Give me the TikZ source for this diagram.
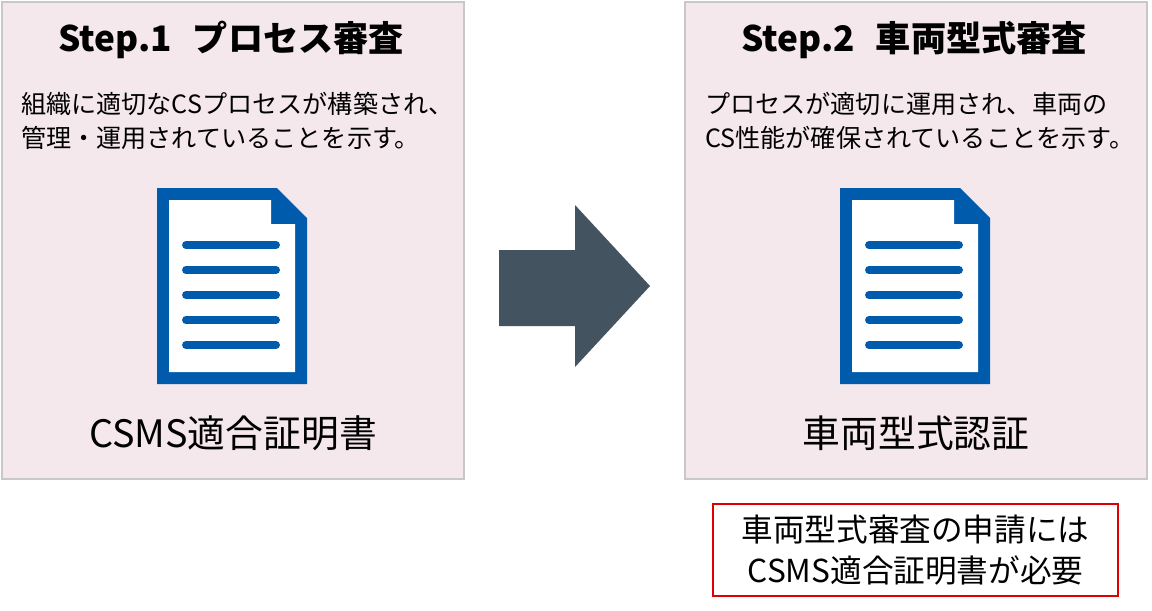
\documentclass[tikz,border=0pt]{standalone}
\usepackage{fontspec}
\setmainfont{Noto Sans CJK JP}
\definecolor{boxfill}{HTML}{F5E8EC}
\definecolor{boxline}{HTML}{C8C8C8}
\definecolor{docblue}{HTML}{005BAC}
\definecolor{arrowc}{HTML}{43535F}
\definecolor{redc}{HTML}{E00000}
\tikzset{
  panel/.style={draw=boxline,fill=boxfill,line width=1.2pt},
  ttl/.style={font=\fontsize{20}{24}\selectfont\bfseries},
  body/.style={font=\fontsize{14.3}{19.5}\selectfont,align=left,anchor=north west},
  lbl/.style={font=\fontsize{21.5}{26}\selectfont},
  docline/.style={docblue,line width=4.5pt,line cap=round},
}
\newcommand{\docicon}[2]{%
  \fill[docblue] (#1,#2) -- ++(120,0) -- ++(30,30) -- ++(0,166) -- ++(-150,0) -- cycle;
  \fill[white] (#1+12,#2+12) -- ++(102,0) -- ++(0,24) -- ++(24,0) -- ++(0,148) -- ++(-126,0) -- cycle;
  \foreach \yy in {57,82,107,132,157} \draw[docline] (#1+29,#2+\yy) -- (#1+119,#2+\yy);
}
\begin{document}
\begin{tikzpicture}[x=0.02cm,y=-0.02cm]
\useasboundingbox (0,0) rectangle (1152,610);
\path[panel] (2,2) rectangle (464,479);
\path[panel] (685,2) rectangle (1147,479);
\node[ttl] (t1) at (231,40) {Step.1\hspace{0.6em}プロセス審査};
\node[ttl] (t2) at (914,40) {Step.2\hspace{0.6em}車両型式審査};
\node[body] (b1) at (15,86) {組織に適切なCSプロセスが構築され、\\管理・運用されていることを示す。};
\node[body] (b2) at (699,86) {プロセスが適切に運用され、車両の\\CS性能が確保されていることを示す。};
\docicon{157}{188}
\docicon{840}{188}
\node[lbl] (l1) at (233,433) {CSMS適合証明書};
\node[lbl] (l2) at (916,433) {車両型式認証};
\fill[arrowc] (499,250) -- (575,250) -- (575,205) -- (650,286) -- (575,367) -- (575,326) -- (499,326) -- cycle;
\draw[redc,line width=1pt] (713,504) rectangle (1118,596);
\node[font=\fontsize{18}{23.5}\selectfont,align=center] (n) at (915.5,550) {車両型式審査の申請には\\CSMS適合証明書が必要};
\end{tikzpicture}
\end{document}
